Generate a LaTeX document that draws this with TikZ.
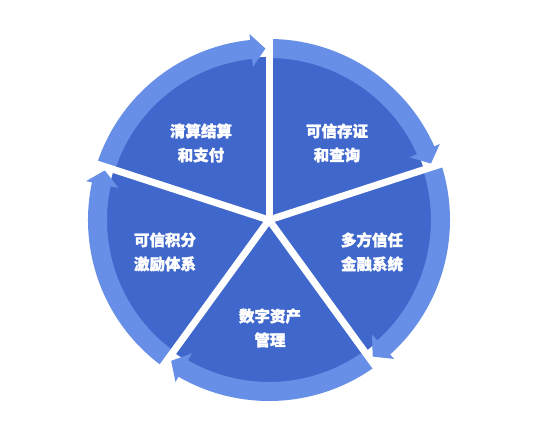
\documentclass[tikz,border=0pt]{standalone}
\usepackage{fontspec}
\newfontfamily\cjk{Noto Sans CJK SC}[FakeBold=1.6]
\definecolor{ringdark}{RGB}{64,104,204}
\definecolor{ringlight}{RGB}{104,143,231}

\begin{document}
\begin{tikzpicture}[x=1pt,y=1pt]
\tikzset{
  lbl/.style={text=white,align=center,font=\cjk\bfseries\fontsize{15.5}{24}\selectfont},
  gap/.style={white,line width=7pt},
  band/.style={fill=ringlight}}
% canvas, centre of the wheel at (0,0)
\useasboundingbox (-269,-207) rectangle (274,220);
% ring radii: inner, outer
\newcommand{\rin}{162}
\newcommand{\rout}{181}
% arrow band from angle #1 round to angle #2 (clockwise)
\newcommand{\band}[2]{%
  \fill[band] (#1:\rout) arc[start angle=#1,end angle=#2+6,radius=\rout]
    -- (#2+6:\rout+6) -- (#2+1.2:171.5) -- (#2+6:\rin-8)
    -- (#2+6:\rin) arc[start angle=#2+6,end angle=#1,radius=\rin] -- cycle;}
% ---------- wheel ----------
\fill[ringdark] (0,0) circle[radius=\rin+1];
\foreach \a/\b in {162/90,90/18,18/-54,-54/-126,-126/-198}
  {\band{\a}{\b}}
% ---------- white gaps ----------
\foreach \g in {90,18,-54,-126,162}
  \draw[gap] (0,0) -- (\g:200);
% ---------- labels ----------
\node[lbl] (settle) at (-68,77) {清算结算\\和支付};
\node[lbl] (proof)  at (68,77)  {可信存证\\和查询};
\node[lbl] (fin)    at (103,-32) {多方信任\\金融系统};
\node[lbl] (asset)  at (1,-108) {数字资产\\管理};
\node[lbl] (point)  at (-104,-32) {可信积分\\激励体系};
\end{tikzpicture}
\end{document}
